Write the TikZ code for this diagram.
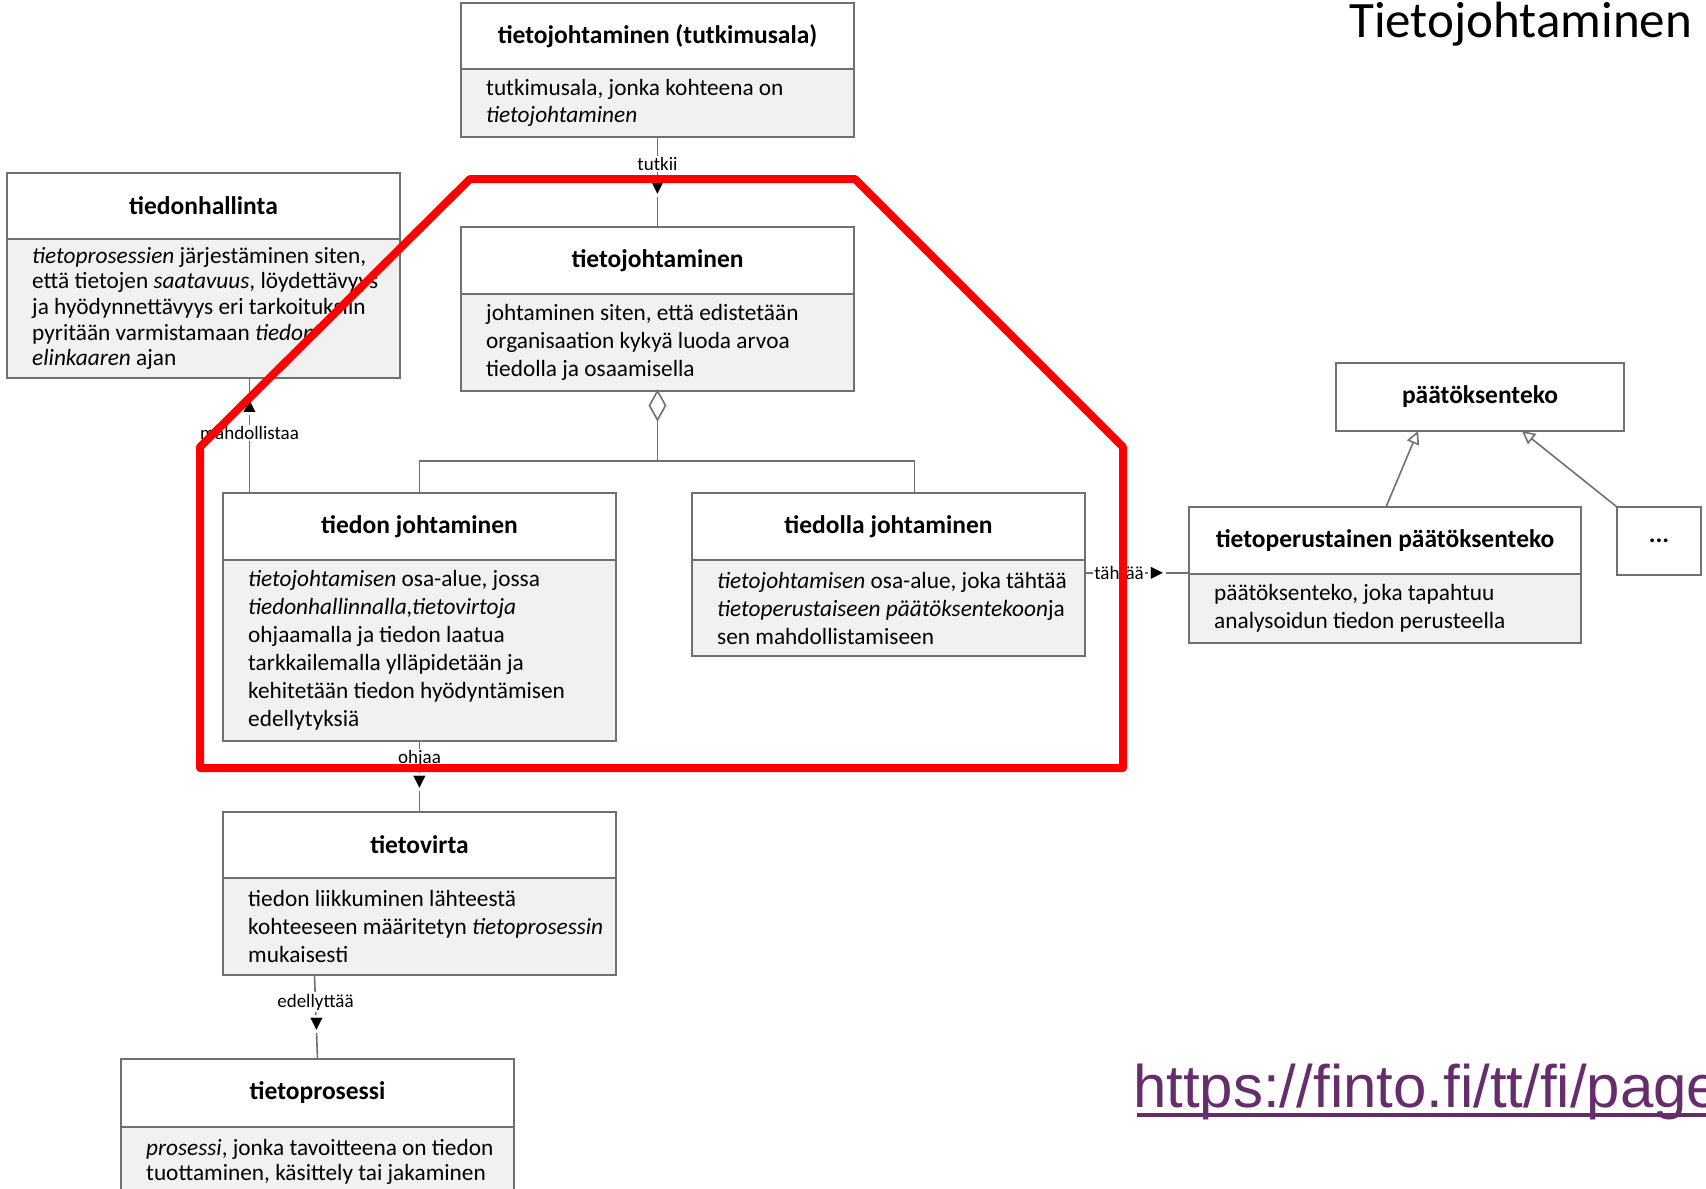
\documentclass[tikz,border=0pt]{standalone}
\usepackage{fontspec}
\setmainfont{Carlito}
\newfontfamily\symfont{DejaVu Sans}
\newfontfamily\urlfont{Liberation Sans}
\usetikzlibrary{arrows.meta,calc}
\definecolor{boxgray}{RGB}{112,112,112}
\definecolor{bodygray}{RGB}{241,241,241}
\definecolor{linkpurple}{RGB}{102,45,108}
\definecolor{umlred}{RGB}{255,0,0}
\begin{document}
\begin{tikzpicture}[x=1pt,y=-1pt,
  frame/.style={draw=boxgray,line width=1.6pt,inner sep=0pt,outer sep=0pt,anchor=north west},
  ttl/.style={frame,fill=white,minimum width=393pt,minimum height=#1,font=\fontsize{25.5}{30}\selectfont\bfseries},
  ttl/.default=67pt,
  bdy/.style={frame,fill=bodygray,minimum width=393pt,minimum height=#1},
  btxt/.style={anchor=west,align=left,inner sep=0pt,font=\fontsize{23.3}{#1}\selectfont},
  btxt/.default=28,
  lbl/.style={fill=white,inner sep=1.5pt,font=\fontsize{19}{19}\selectfont},
  tri/.style={fill=white,inner sep=2.5pt,font=\symfont\fontsize{16}{16}\selectfont},
  conn/.style={draw=boxgray,line width=1.6pt},
  gen/.style={conn,-{Triangle[open,length=13pt,width=13pt]}},
]
\useasboundingbox (0,0) rectangle (1706,1189);
\clip (0,0) rectangle (1706,1189);

% tietojohtaminen (tutkimusala)
\node[ttl=66pt] (A) at (461,3) {tietojohtaminen (tutkimusala)};
\node[bdy=68pt] (Ab) at (A.south west) {};
\node[btxt=27] (At) at ([xshift=25pt]Ab.west) {tutkimusala, jonka kohteena on\\\textit{tietojohtaminen}};

% tiedonhallinta
\node[ttl=66pt] (B) at (7,173) {tiedonhallinta};
\node[bdy=139pt] (Bb) at (B.south west) {};
\node[btxt=25.7] (Bt) at ([xshift=25pt]Bb.west) {\textit{tietoprosessien} järjestäminen siten,\\että tietojen \textit{saatavuus}, löydettävyys\\ja hyödynnettävyys eri tarkoituksiin\\pyritään varmistamaan \textit{tiedon}\\\textit{elinkaaren} ajan};

% tietojohtaminen
\node[ttl] (C) at (461,227) {tietojohtaminen};
\node[bdy=97pt] (Cb) at (C.south west) {};
\node[btxt] (Ct) at ([xshift=25pt]Cb.west) {johtaminen siten, että edistetään\\organisaation kykyä luoda arvoa\\tiedolla ja osaamisella};

% tiedon johtaminen
\node[ttl] (D) at (223,493) {tiedon johtaminen};
\node[bdy=181pt] (Db) at (D.south west) {};
\node[btxt] (Dt) at ([xshift=25pt]Db.west) {\textit{tietojohtamisen} osa-alue, jossa\\\textit{tiedonhallinnalla,tietovirtoja}\\ohjaamalla ja tiedon laatua\\tarkkailemalla ylläpidetään ja\\kehitetään tiedon hyödyntämisen\\edellytyksiä};

% tiedolla johtaminen
\node[ttl] (E) at (692,493) {tiedolla johtaminen};
\node[bdy=96pt] (Eb) at (E.south west) {};
\node[btxt] (Et) at ([xshift=25pt]Eb.west) {\textit{tietojohtamisen} osa-alue, joka tähtää\\\textit{tietoperustaiseen päätöksentekoon}ja\\sen mahdollistamiseen};

% päätöksenteko
\node[frame,fill=white,minimum width=288pt,minimum height=68pt,font=\fontsize{25.5}{30}\selectfont\bfseries] (F) at (1336,363) {päätöksenteko};

% tietoperustainen päätöksenteko
\node[ttl,minimum width=392pt] (G) at (1189,507) {tietoperustainen päätöksenteko};
\node[bdy=69pt,minimum width=392pt] (Gb) at (G.south west) {};
\node[btxt] (Gt) at ([xshift=25pt]Gb.west) {päätöksenteko, joka tapahtuu\\analysoidun tiedon perusteella};

% ...
\node[frame,fill=white,minimum width=84pt,minimum height=68pt,font=\fontsize{25.5}{30}\selectfont\bfseries] (H) at (1617,507) {...};

% tietovirta
\node[ttl=66pt] (I) at (223,812) {tietovirta};
\node[bdy=97pt] (Ib) at (I.south west) {};
\node[btxt] (It) at ([xshift=25pt]Ib.west) {tiedon liikkuminen lähteestä\\kohteeseen määritetyn \textit{tietoprosessin}\\mukaisesti};

% tietoprosessi
\node[ttl=68pt] (J) at (121,1059) {tietoprosessi};
\node[bdy=76pt] (Jb) at (J.south west) {};
\node[btxt=25] (Jt) at ([xshift=25pt,yshift=3pt]Jb.west) {\textit{prosessi}, jonka tavoitteena on tiedon\\tuottaminen, käsittely tai jakaminen};

% tutkii
\draw[conn] (Ab.south) -- (C.north);
\node[lbl] (l1) at ($(Ab.south)+(0,27)$) {tutkii};
\node[tri] (t1) at ($(Ab.south)+(0,51)$) {▼};

% mahdollistaa
\coordinate (m1) at ([xshift=46pt]Bb.south);
\draw[conn] (m1) -- (m1 |- D.north);
\node[tri] (t2) at ($(m1)+(0,28)$) {▲};
\node[lbl] (l2) at ($(m1)+(0,55)$) {mahdollistaa};

% aggregation
\coordinate (agg) at ($(Cb.south)+(0,70)$);
\draw[conn,fill=white] (Cb.south) -- ++(-8,14.5) -- ++(8,14.5) -- ++(8,-14.5) -- cycle;
\draw[conn] ($(Cb.south)+(0,29)$) -- (agg);
\draw[conn] (D.north) |- (agg) -| ([xshift=26pt]E.north);

% tähtää
\coordinate (ta) at ([yshift=-13pt]E.south east);
\draw[conn] (ta) -- (ta -| G.west);
\node[lbl] (l3) at ($(ta)+(34,0)$) {tähtää};
\node[tri] (t3) at ($(ta)+(72,0)$) {▶};

% ohjaa
\draw[conn] (Db.south) -- (I.north);
\node[lbl] (l4) at ($(Db.south)+(0,18)$) {ohjaa};
\node[tri] (t4) at ($(Db.south)+(0,41)$) {▼};

% edellyttää
\coordinate (e1) at ([xshift=-105pt]Ib.south);
\draw[conn] (e1) -- (J.north);
\node[lbl] (l5) at ($(e1)+(1,27)$) {edellyttää};
\node[tri] (t5) at ($(e1)+(2,49)$) {▼};

% generalization
\draw[gen] ([xshift=1pt]G.north) -- ([xshift=-62pt]F.south);
\draw[gen] (H.north west) -- ([xshift=42pt]F.south);

% red highlight
\draw[draw=umlred,line width=8pt,line join=round] (470,179) -- (855,179) -- (1123,447) -- (1123,768) -- (200,768) -- (200,447) -- cycle;

% title and link
\node[anchor=base west,inner sep=0pt,font=\fontsize{51}{51}\selectfont] (title) at (1349,37) {Tietojohtaminen};
\node[anchor=base west,inner sep=0pt,font=\urlfont\fontsize{60}{60}\selectfont,text=linkpurple] (url) at (1133,1107) {https://finto.fi/tt/fi/page};
\draw[linkpurple,line width=3.5pt] ($(url.base west)+(4,8)$) -- ($(url.base east)+(0,8)$);
\end{tikzpicture}
\end{document}
